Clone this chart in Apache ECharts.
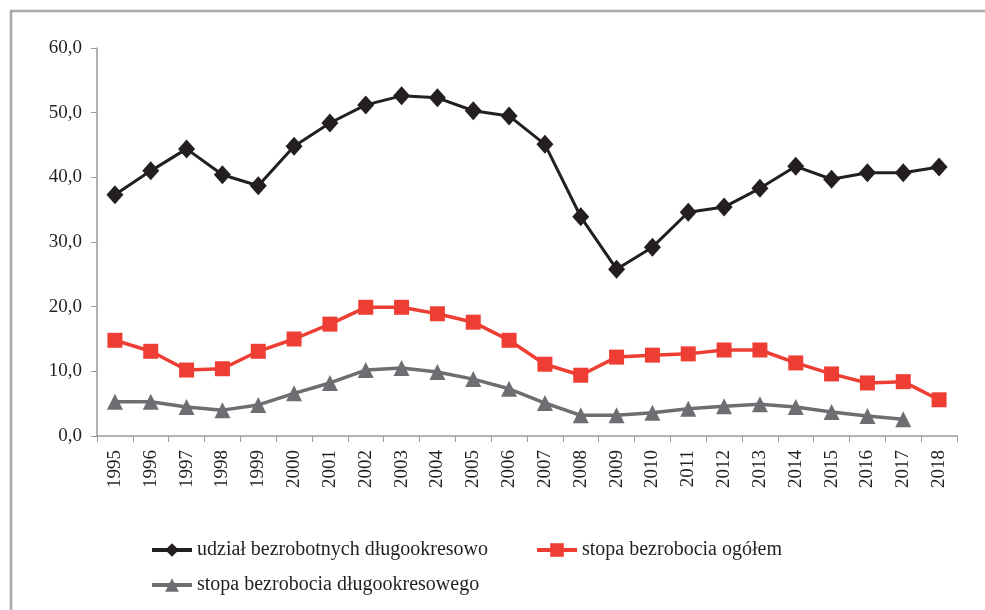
<!DOCTYPE html>
<html><head><meta charset="utf-8">
<script src="https://cdn.jsdelivr.net/npm/echarts@6/dist/echarts.min.js"></script>
<style>html,body{margin:0;padding:0;background:#fff}#c{width:985px;height:610px}</style>
</head><body><div id="c"></div>
<script>
const years = ['1995','1996','1997','1998','1999','2000','2001','2002','2003','2004','2005','2006','2007','2008','2009','2010','2011','2012','2013','2014','2015','2016','2017','2018'];
const udzial = [37.3,41.0,44.4,40.4,38.7,44.8,48.4,51.2,52.6,52.3,50.3,49.5,45.1,33.9,25.8,29.2,34.6,35.4,38.3,41.7,39.7,40.7,40.7,41.6];
const ogolem = [14.8,13.1,10.2,10.4,13.1,15.0,17.3,19.9,19.9,18.9,17.6,14.8,11.1,9.4,12.2,12.5,12.7,13.3,13.3,11.3,9.6,8.2,8.4,5.6];
const dlugo = [5.3,5.3,4.5,4.0,4.8,6.6,8.2,10.2,10.5,9.9,8.8,7.3,5.1,3.2,3.2,3.6,4.2,4.6,4.9,4.5,3.7,3.1,2.6,null];
const names = ['udział bezrobotnych długookresowo','stopa bezrobocia ogółem','stopa bezrobocia długookresowego'];
const FONT = '"Liberation Serif", "DejaVu Serif", serif';
const chart = echarts.init(document.getElementById('c'));
const legendText = {fontFamily: FONT, fontSize: 20, color: '#231f20'};
const lg = {itemWidth: 40, itemHeight: 17, textStyle: legendText, lineStyle: {width: 4}};
chart.setOption({
  animation: false,
  textStyle: {fontFamily: FONT},
  graphic: [{type:'rect', shape:{x:11,y:11,width:1000,height:650}, style:{fill:'none', stroke:'#a8a8a8', lineWidth:2.5}, silent:true}],
  grid: {left: 97, right: 28, top: 48, bottom: 174},
  legend: [
    Object.assign({data:[names[0]], left: 145, top: 535}, lg),
    Object.assign({data:[names[1]], left: 530, top: 535}, lg),
    Object.assign({data:[names[2]], left: 145, top: 570}, lg)
  ],
  xAxis: {
    type: 'category', data: years, boundaryGap: true,
    axisLine: {lineStyle: {color: '#9a9a9a', width: 1.5}},
    axisTick: {show: true, length: 6, lineStyle: {color: '#9a9a9a'}},
    axisLabel: {rotate: 90, fontFamily: FONT, fontSize: 19, color: '#231f20', margin: 14, interval: 0}
  },
  yAxis: {
    type: 'value', min: 0, max: 60, interval: 10,
    axisLine: {show: true, lineStyle: {color: '#9a9a9a', width: 1.5}},
    axisTick: {show: true, length: 6, lineStyle: {color: '#9a9a9a'}},
    splitLine: {show: false},
    axisLabel: {fontFamily: FONT, fontSize: 19, color: '#231f20', margin: 15,
      formatter: v => v.toFixed(1).replace('.', ',')}
  },
  series: [
    {name: names[0], type: 'line', data: udzial, symbol: 'diamond', symbolSize: [17,19],
      lineStyle: {color: '#231f20', width: 3}, itemStyle: {color: '#231f20'}},
    {name: names[1], type: 'line', data: ogolem, symbol: 'rect', symbolSize: 15,
      lineStyle: {color: '#ee3e34', width: 3.5}, itemStyle: {color: '#ee3e34'}},
    {name: names[2], type: 'line', data: dlugo, symbol: 'triangle', symbolSize: 16,
      lineStyle: {color: '#6d6e71', width: 3.5}, itemStyle: {color: '#6d6e71'}}
  ]
});
</script></body></html>
